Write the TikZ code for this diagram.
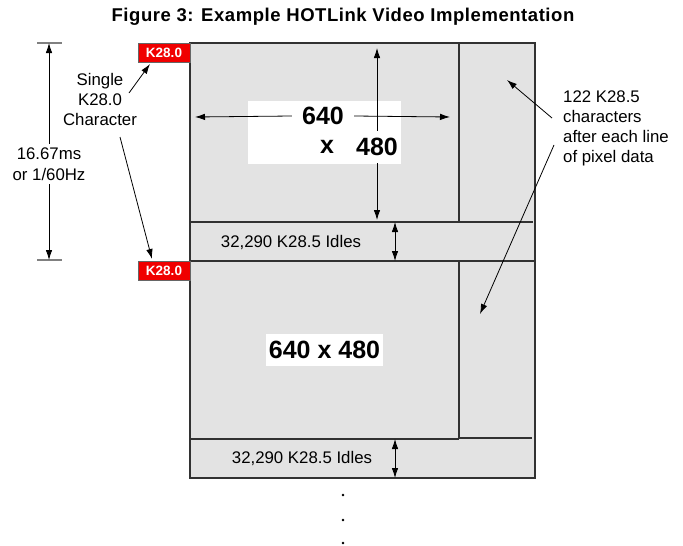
\documentclass[tikz,border=0pt]{standalone}
\usepackage{fontspec}
\setmainfont{Liberation Sans}
\usetikzlibrary{arrows.meta}
\definecolor{cellgray}{RGB}{227,227,227}
\definecolor{edgegray}{RGB}{50,50,50}
\definecolor{k28red}{RGB}{240,0,0}

\begin{document}
\begin{tikzpicture}[x=1pt, y=-1pt,
  arr/.style={-{Latex[length=10pt,width=6.5pt]}, line width=0.8pt},
  twoarr/.style={{Latex[length=10pt,width=6.5pt]}-{Latex[length=10pt,width=6.5pt]}, line width=0.8pt},
  cell/.style={draw=edgegray, line width=1.1pt},
  k28/.style={fill=k28red, draw=black!60, line width=0.5pt, text=white,
    font=\fontsize{13.5}{14}\selectfont\bfseries, inner sep=0pt,
    minimum width=52pt, minimum height=19pt},
  lbl/.style={font=\fontsize{16.8}{20.5}\selectfont, align=center, inner sep=2pt},
  big/.style={font=\fontsize{25}{28}\selectfont\bfseries, inner sep=0pt}]
  \useasboundingbox (0,0) rectangle (683,546);

  \node[font=\fontsize{18.5}{20}\selectfont\bfseries\addfontfeature{LetterSpace=3}] (title) at (343,17) {Figure 3: Example HOTLink Video Implementation};

  \filldraw[cell, fill=cellgray] (190,43) rectangle (535,478);
  \draw[cell] (459,43) -- (459,222);
  \draw[cell] (190,222) -- (533,222);
  \draw[cell] (190,261) -- (535,261);
  \draw[cell] (459,261) -- (459,438);
  \draw[cell] (459,438) -- (532,438);
  \draw[cell] (190,439) -- (459,439);

  \node[fill=white, inner sep=0pt, minimum width=153pt, minimum height=63pt] (win1) at (324.5,132.5) {};
  \node[big, inner xsep=10pt, inner ysep=2pt] (w640) at (323,116) {640};
  \node[big] (wx) at (327,147) {x};
  \node[big, inner ysep=7pt] (h480) at (377,147) {480};
  \node[big, fill=white, minimum width=117pt, minimum height=32pt] (pix2) at (324.5,350) {640 x 480};

  \coordinate (wleft) at (195,117);
  \coordinate (wright) at (450,117);
  \coordinate (htop) at (377,48);
  \coordinate (hbot) at (377,220);
  \draw[arr] (w640.west) -- (wleft);
  \draw[arr] (w640.east) -- (wright);
  \draw[arr] (h480.north) -- (htop);
  \draw[arr] (h480.south) -- (hbot);

  \node[lbl] (idle1) at (291,242) {32,290 K28.5 Idles};
  \node[lbl] (idle2) at (302,458) {32,290 K28.5 Idles};
  \coordinate (i1t) at (395,222);
  \coordinate (i1b) at (395,261);
  \coordinate (i2t) at (395,439);
  \coordinate (i2b) at (395,478);
  \draw[twoarr] (i1t) -- (i1b);
  \draw[twoarr] (i2t) -- (i2b);

  \node[k28] (k28top) at (164,52.5) {K28.0};
  \node[k28] (k28bot) at (164,270.5) {K28.0};

  \draw[gray, line width=1.2pt] (37,43) -- (62,43);
  \draw[gray, line width=1.2pt] (37,260) -- (62,260);
  \coordinate (dtop) at (49,43);
  \coordinate (dbot) at (49,260);
  \node[lbl, inner sep=4pt] (period) at (49,164) {16.67ms\\or 1/60Hz};
  \draw[arr] (period.north) -- (dtop);
  \draw[arr] (period.south) -- (dbot);

  \node[lbl, font=\fontsize{16.8}{20}\selectfont] (single) at (100,99) {Single\\K28.0\\Character};
  \coordinate (s1a) at (129,93);
  \coordinate (s1b) at (150,64);
  \coordinate (s2a) at (120,137);
  \coordinate (s2b) at (152,259);
  \draw[arr] (s1a) -- (s1b);
  \draw[arr] (s2a) -- (s2b);

  \node[lbl, align=left, anchor=west, font=\fontsize{16.8}{20}\selectfont] (note) at (561,128) {122 K28.5\\characters\\after each line\\of pixel data};
  \coordinate (n1a) at (552,118);
  \coordinate (n1b) at (507,80);
  \coordinate (n2a) at (554,145);
  \coordinate (n2b) at (480,314);
  \draw[arr] (n1a) -- (n1b);
  \draw[arr] (n2a) -- (n2b);

  \filldraw (343,495) circle (1pt);
  \filldraw (343,520) circle (1pt);
  \filldraw (343,543) circle (1pt);
\end{tikzpicture}
\end{document}
